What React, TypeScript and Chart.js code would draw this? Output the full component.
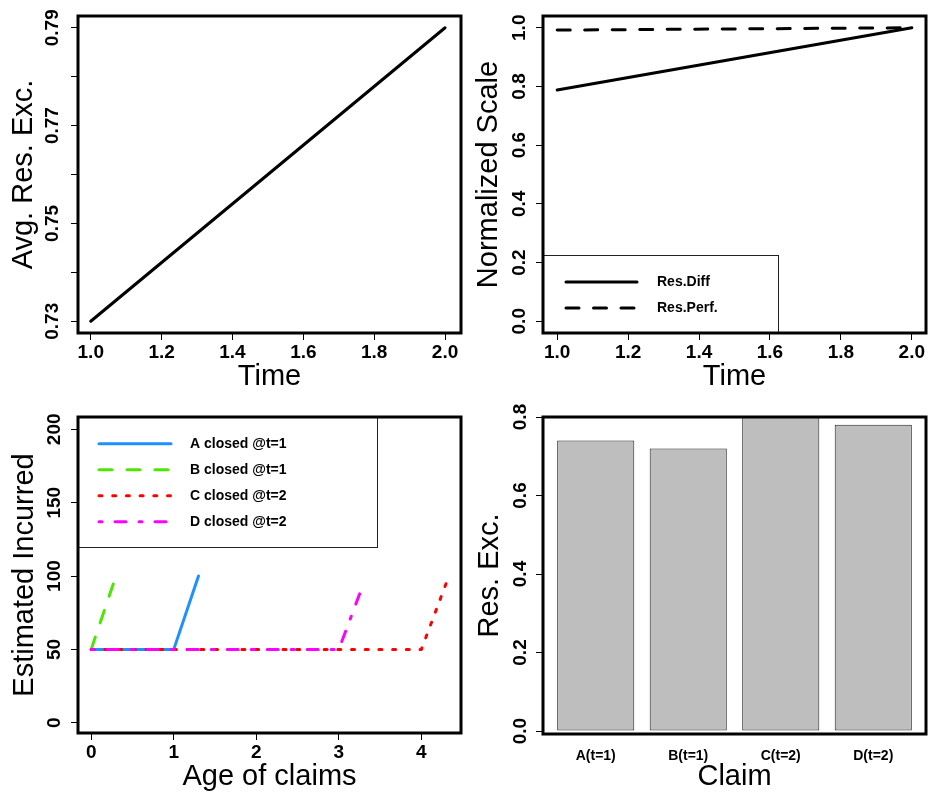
import React, { useEffect, useRef } from 'react';
import { Chart, registerables } from 'chart.js';

Chart.register(...registerables);

const FONT = '"Liberation Sans", Arial, Helvetica, sans-serif';
Chart.defaults.font.family = FONT;
Chart.defaults.color = '#000';

// ---------------- data ----------------
// Panel 1: average residual excess over time
const TIME = [1, 2];
const AVG_RES_EXC = [0.73, 0.79];
const TIME_TICKS = [1, 1.2, 1.4, 1.6, 1.8, 2];
const TIME_LABELS = ['1.0', '1.2', '1.4', '1.6', '1.8', '2.0'];
const AVG_TICKS = [0.73, 0.74, 0.75, 0.76, 0.77, 0.78, 0.79];
const AVG_LABELS = ['0.73', '', '0.75', '', '0.77', '', '0.79'];

// Panel 2: normalized scale
const RES_DIFF = [0.788, 1.0];
const RES_PERF = [0.992, 1.0];
const NORM_TICKS = [0, 0.2, 0.4, 0.6, 0.8, 1];
const NORM_LABELS = ['0.0', '0.2', '0.4', '0.6', '0.8', '1.0'];

// Panel 3: estimated incurred by age of claims
const AGE_A = [0, 1, 1.3];
const INC_A = [50, 50, 100];
const AGE_B = [0, 0.3];
const INC_B = [50, 100];
const AGE_C = [0, 4, 4.3];
const INC_C = [50, 50, 95];
const AGE_D = [0, 3, 3.3];
const INC_D = [50, 50, 95];
const AGE_TICKS = [0, 1, 2, 3, 4];
const AGE_LABELS = ['0', '1', '2', '3', '4'];
const INC_TICKS = [0, 50, 100, 150, 200];
const INC_LABELS = ['0', '50', '100', '150', '200'];

// Panel 4: residual excess per claim
const CLAIMS = ['A(t=1)', 'B(t=1)', 'C(t=2)', 'D(t=2)'];
const RES_EXC = [0.74, 0.72, 0.8, 0.78];
const RES_TICKS = [0, 0.2, 0.4, 0.6, 0.8];
const RES_LABELS = ['0.0', '0.2', '0.4', '0.6', '0.8'];

// ---------------- helpers ----------------
const pts = (xs: number[], ys: number[]) => xs.map((x, i) => ({ x, y: ys[i] }));

type AxisOpts = {
  min: number;
  max: number;
  ticks: number[];
  labels: string[];
  vertical: boolean;
  size: number;
  pad: number;
  title: string;
  titlePad: number;
  drawTicks?: boolean;
  tickFont?: number;
};

function axis(o: AxisOpts): any {
  const drawTicks = o.drawTicks !== false;
  return {
    type: 'linear',
    min: o.min,
    max: o.max,
    bounds: 'data',
    offset: false,
    afterBuildTicks: (s: any) => {
      s.ticks = o.ticks.map((v) => ({ value: v }));
    },
    afterFit: (s: any) => {
      if (o.vertical) s.width = o.size;
      else s.height = o.size;
    },
    ticks: {
      autoSkip: false,
      includeBounds: false,
      callback: (_v: any, i: number) => o.labels[i],
      padding: o.pad,
      font: { size: o.tickFont ?? 19, weight: 'bold' },
      color: '#000',
      minRotation: o.vertical ? 90 : 0,
      maxRotation: o.vertical ? 90 : 0,
      crossAlign: o.vertical ? 'center' : 'near',
    },
    grid: {
      display: true,
      drawOnChartArea: false,
      drawTicks,
      tickLength: 7,
      color: '#000',
      lineWidth: 1,
      offset: false,
    },
    border: { display: false },
    title: {
      display: true,
      text: o.title,
      font: { size: 29, weight: 'normal' },
      color: '#000',
      padding: o.vertical ? { top: o.titlePad, bottom: 0 } : { top: 0, bottom: o.titlePad },
    },
  };
}

// frame (R box) + R-style legend
const rPlot = {
  id: 'rplot',
  afterDraw(chart: any, _args: any, opts: any) {
    const { ctx, chartArea: a } = chart;
    ctx.save();
    const L = opts && opts.legend;
    if (L) {
      const x1 = a.left;
      const y1 = L.top ?? a.top;
      const x2 = L.right;
      const y2 = L.bottom ?? a.bottom;
      ctx.strokeStyle = '#222';
      ctx.lineWidth = 1;
      ctx.setLineDash([]);
      ctx.strokeRect(Math.round(x1) + 0.5, Math.round(y1) + 0.5, Math.round(x2 - x1), Math.round(y2 - y1));
      chart.data.datasets.forEach((ds: any, i: number) => {
        const y = L.rows[i];
        ctx.beginPath();
        ctx.setLineDash(ds.borderDash || []);
        ctx.lineCap = 'round';
        ctx.lineWidth = ds.borderWidth;
        ctx.strokeStyle = ds.borderColor;
        ctx.moveTo(L.x1, y);
        ctx.lineTo(L.x2, y);
        ctx.stroke();
        ctx.setLineDash([]);
        ctx.fillStyle = '#000';
        ctx.font = `bold 14px ${FONT}`;
        ctx.textBaseline = 'middle';
        ctx.textAlign = 'left';
        ctx.fillText(ds.label, L.textX, y);
      });
    }
    ctx.setLineDash([]);
    ctx.strokeStyle = '#000';
    ctx.lineWidth = 3;
    ctx.strokeRect(a.left, a.top, a.right - a.left, a.bottom - a.top);
    ctx.restore();
  },
};

const lineDs = (label: string, data: any[], color: string, dash: number[], order = 0) => ({
  label,
  data,
  borderColor: color,
  backgroundColor: color,
  borderWidth: 3,
  borderDash: dash,
  borderCapStyle: 'round',
  borderJoinStyle: 'round',
  pointRadius: 0,
  pointHoverRadius: 0,
  fill: false,
  tension: 0,
  order,
});

const baseOptions = (padding: any, scales: any, rplot: any) => ({
  responsive: false,
  maintainAspectRatio: false,
  animation: false,
  devicePixelRatio: 1,
  events: [],
  layout: { padding },
  plugins: { legend: { display: false }, tooltip: { enabled: false }, rplot },
  scales,
});

// ---------------- panels ----------------
function makeP1(): any {
  return {
    type: 'line',
    data: { datasets: [lineDs('Avg. Res. Exc.', pts(TIME, AVG_RES_EXC), '#000', [])] },
    options: baseOptions(
      { left: 0, top: 16, right: 3, bottom: 0 },
      {
        x: axis({ min: 0.964, max: 2.045, ticks: TIME_TICKS, labels: TIME_LABELS, vertical: false, size: 67, pad: 1, title: 'Time', titlePad: 6 }),
        y: axis({ min: 0.7276, max: 0.7924, ticks: AVG_TICKS, labels: AVG_LABELS, vertical: true, size: 78, pad: 0, title: 'Avg. Res. Exc.', titlePad: 7 }),
      },
      {}
    ),
    plugins: [rPlot],
  };
}

function makeP2(): any {
  return {
    type: 'line',
    data: {
      datasets: [
        lineDs('Res.Diff', pts(TIME, RES_DIFF), '#000', []),
        lineDs('Res.Perf.', pts(TIME, RES_PERF), '#000', [13, 14.5]),
      ],
    },
    options: baseOptions(
      { left: 0, top: 16, right: 2, bottom: 0 },
      {
        x: axis({ min: 0.96, max: 2.04, ticks: TIME_TICKS, labels: TIME_LABELS, vertical: false, size: 67, pad: 1, title: 'Time', titlePad: 6 }),
        y: axis({ min: -0.04, max: 1.04, ticks: NORM_TICKS, labels: NORM_LABELS, vertical: true, size: 79, pad: 3, title: 'Normalized Scale', titlePad: 7.5 }),
      },
      { legend: { right: 314, top: 255, x1: 102, x2: 173, textX: 193, rows: [282, 308] } }
    ),
    plugins: [rPlot],
  };
}

function makeP3(): any {
  return {
    type: 'line',
    data: {
      datasets: [
        lineDs('A closed @t=1', pts(AGE_A, INC_A), '#1E90FF', [], 3),
        lineDs('B closed @t=1', pts(AGE_B, INC_B), '#4CE600', [13, 15], 2),
        lineDs('C closed @t=2', pts(AGE_C, INC_C), '#FF0000', [3, 10.7], 1),
        lineDs('D closed @t=2', pts(AGE_D, INC_D), '#FF00FF', [3, 13, 11, 13], 0),
      ],
    },
    options: baseOptions(
      { left: 0, top: 17, right: 3, bottom: 0 },
      {
        x: axis({ min: -0.16, max: 4.48, ticks: AGE_TICKS, labels: AGE_LABELS, vertical: false, size: 63, pad: 1, title: 'Age of claims', titlePad: 1.6 }),
        y: axis({ min: -7, max: 208.4, ticks: INC_TICKS, labels: INC_LABELS, vertical: true, size: 78, pad: 0, title: 'Estimated Incurred', titlePad: 7.5 }),
      },
      { legend: { right: 377, bottom: 147, x1: 99, x2: 171, textX: 190, rows: [43.7, 69.7, 95.7, 121.7] } }
    ),
    plugins: [rPlot],
  };
}

function makeP4(): any {
  return {
    type: 'bar',
    data: {
      datasets: [
        {
          label: 'Res. Exc.',
          data: RES_EXC.map((v, i) => ({ x: 0.7 + 1.2 * i, y: v })),
          backgroundColor: '#BEBEBE',
          borderColor: '#222',
          borderWidth: 1,
          borderSkipped: false,
          categoryPercentage: 1,
          barPercentage: 1 / 1.2,
        },
      ],
    },
    options: baseOptions(
      { left: 0, top: 17, right: 2, bottom: 0 },
      {
        x: axis({
          min: 0.016,
          max: 4.984,
          ticks: CLAIMS.map((_c, i) => 0.7 + 1.2 * i),
          labels: CLAIMS,
          vertical: false,
          size: 62,
          pad: 13.6,
          title: 'Claim',
          titlePad: 1.6,
          drawTicks: false,
          tickFont: 14,
        }),
        y: axis({ min: -0.0076, max: 0.8, ticks: RES_TICKS, labels: RES_LABELS, vertical: true, size: 79, pad: 2, title: 'Res. Exc.', titlePad: 8.5 }),
      },
      {}
    ),
    plugins: [rPlot],
  };
}

function Panel(props: { left: number; top: number; width: number; height: number; make: () => any }) {
  const ref = useRef<HTMLCanvasElement>(null);
  useEffect(() => {
    const chart = new Chart(ref.current as HTMLCanvasElement, props.make());
    return () => chart.destroy();
  }, []);
  return (
    <canvas
      ref={ref}
      width={props.width}
      height={props.height}
      style={{ position: 'absolute', left: props.left, top: props.top, width: props.width, height: props.height }}
    />
  );
}

export default function App() {
  return (
    <div style={{ position: 'absolute', left: 0, top: 0, width: 928, height: 796, background: '#fff', overflow: 'hidden' }}>
      <Panel left={0} top={0} width={464} height={400} make={makeP1} />
      <Panel left={464} top={0} width={464} height={400} make={makeP2} />
      <Panel left={0} top={400} width={464} height={396} make={makeP3} />
      <Panel left={464} top={400} width={464} height={396} make={makeP4} />
    </div>
  );
}
